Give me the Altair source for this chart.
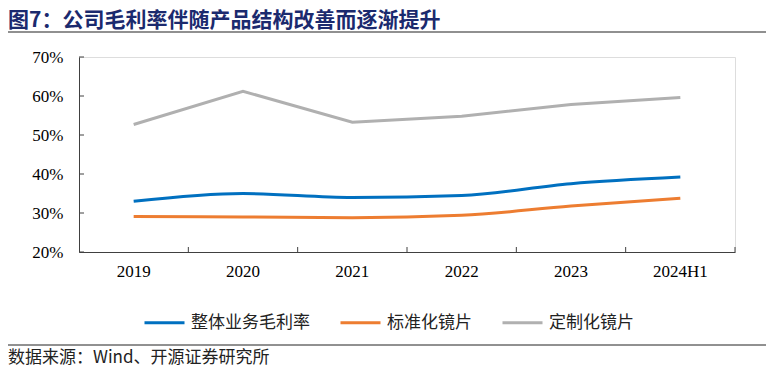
import altair as alt
import pandas as pd

years = ["2019", "2020", "2021", "2022", "2023", "2024H1"]
series_names = ["整体业务毛利率", "标准化镜片", "定制化镜片"]
overall = [33.0, 35.0, 34.0, 34.5, 37.5, 39.2]
standard = [29.1, 29.0, 28.8, 29.4, 31.8, 33.8]
custom = [52.7, 61.2, 53.3, 54.8, 57.8, 59.6]
colors = ["#0070C0", "#ED7D31", "#B0B0B0"]
y_ticks = [0.2, 0.3, 0.4, 0.5, 0.6, 0.7]

title_text = "图7：公司毛利率伴随产品结构改善而逐渐提升"
source_text = "数据来源：Wind、开源证券研究所"

rows = []
for name, vals in zip(series_names, [overall, standard, custom]):
    for yr, v in zip(years, vals):
        rows.append({"year": yr, "series": name, "value": v / 100})
df = pd.DataFrame(rows)

W, H = 656, 195
SERIF = "Liberation Serif"
CJK = "Noto Sans CJK SC"

xscale = alt.Scale(type="band", domain=years, paddingInner=0, paddingOuter=0)
yscale = alt.Scale(domain=[0.2, 0.7], nice=False, zero=False)
cscale = alt.Scale(domain=series_names, range=colors)

x_axis = alt.Axis(title=None, orient="bottom", ticks=False, domain=True,
                  domainColor="#404040", domainWidth=1, labelAngle=0,
                  labelFont=SERIF, labelFontSize=17, labelColor="#000000",
                  labelPadding=11, grid=False)
y_axis = alt.Axis(title=None, orient="left", ticks=False, domain=True,
                  domainColor="#404040", domainWidth=1, values=y_ticks,
                  format=".0%", labelFont=SERIF, labelFontSize=17,
                  labelColor="#000000", labelPadding=16, grid=False)

x_main = alt.X("year:O", scale=xscale, sort=years, axis=x_axis)
y_main = alt.Y("value:Q", scale=yscale, axis=y_axis)

color_enc = alt.Color("series:N", scale=cscale, sort=series_names,
                      legend=alt.Legend(title=None, orient="none", direction="horizontal",
                                        legendX=64, legendY=244,
                                        symbolType="stroke", symbolSize=1600,
                                        symbolStrokeWidth=3, labelFont=CJK,
                                        labelFontSize=17, labelColor="#222222",
                                        labelOffset=5, columnPadding=24, padding=0))

base = alt.Chart(df)
lines_smooth = base.transform_filter(
    alt.FieldOneOfPredicate(field="series", oneOf=series_names[:2])
).mark_line(strokeWidth=3, interpolate="monotone").encode(
    x=x_main, y=y_main, color=color_enc
)
lines_gray = base.transform_filter(
    alt.FieldEqualPredicate(field="series", equal=series_names[2])
).mark_line(strokeWidth=3).encode(
    x=x_main, y=y_main, color=color_enc
)

# inward tick marks
xt = pd.DataFrame({"year": years})
xticks_layer = alt.Chart(xt).mark_rule(color="#404040", strokeWidth=1).encode(
    x=alt.X("year:O", scale=xscale, sort=years, bandPosition=1, axis=x_axis),
    y=alt.value(H - 5), y2=alt.value(H),
)
yt = pd.DataFrame({"value": y_ticks})
yticks_layer = alt.Chart(yt).mark_rule(color="#404040", strokeWidth=1).encode(
    y=alt.Y("value:Q", scale=yscale, axis=y_axis),
    x=alt.value(0), x2=alt.value(5),
)

ann = pd.DataFrame({"t": [title_text]})
title_layer = alt.Chart(ann).mark_text(
    align="left", baseline="middle", font=CJK, fontSize=21, fontWeight="bold",
    color="#1B2A6E"
).encode(text="t:N", x=alt.value(-71), y=alt.value(-36))

rule_top = alt.Chart(ann).mark_rule(color="#222222", strokeWidth=1.2).encode(
    x=alt.value(-71), x2=alt.value(687), y=alt.value(-25))
rule_bot = alt.Chart(ann).mark_rule(color="#222222", strokeWidth=1).encode(
    x=alt.value(-71), x2=alt.value(687), y=alt.value(288))

src = pd.DataFrame({"t": [source_text]})
source_layer = alt.Chart(src).mark_text(
    align="left", baseline="middle", font=CJK, fontSize=17, color="#222222"
).encode(text="t:N", x=alt.value(-71), y=alt.value(301))

chart = alt.layer(
    lines_smooth, lines_gray, xticks_layer, yticks_layer,
    title_layer, rule_top, rule_bot, source_layer
).properties(
    width=W, height=H,
    autosize=alt.AutoSizeParams(type="none"),
    padding={"left": 71, "top": 49, "right": 31, "bottom": 120},
).configure_view(stroke=None).configure(background="white")

chart.save("out.html", embed_options={"renderer": "svg", "actions": False})
